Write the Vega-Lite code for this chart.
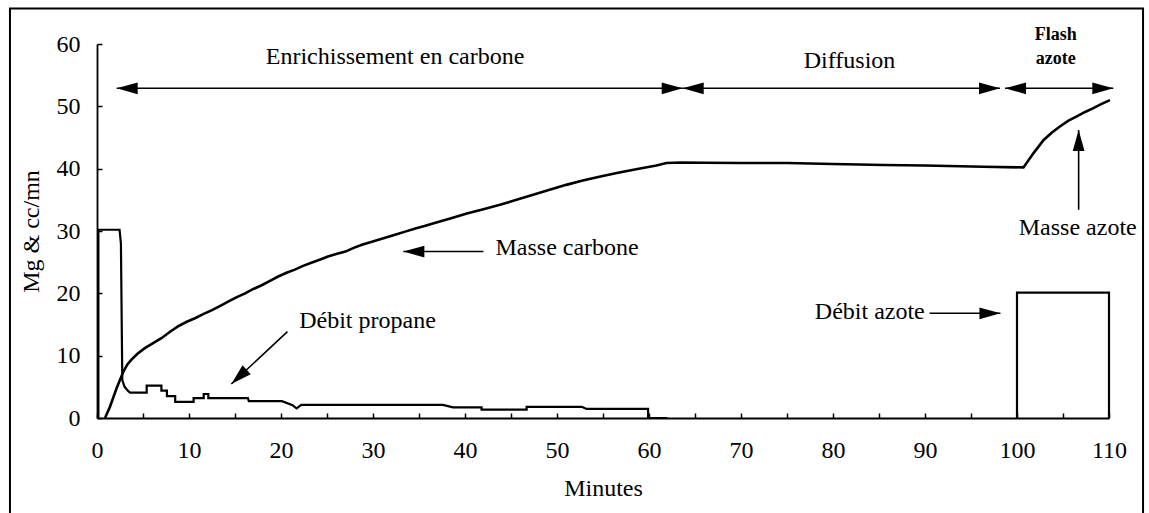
{
  "$schema": "https://vega.github.io/schema/vega-lite/v6.json",
  "width": 1012,
  "height": 374,
  "autosize": {"type": "none"},
  "padding": {"left": 97, "top": 44, "right": 40, "bottom": 95},
  "background": "white",
  "config": {
    "view": {"stroke": null},
    "font": "Liberation Serif, Times New Roman, serif",
    "axis": {
      "tickSize": -5, "tickWidth": 1.5, "tickColor": "black",
      "domainWidth": 1.8, "domainColor": "black", "labelColor": "black",
      "labelFont": "Liberation Serif, Times New Roman, serif", "labelFontSize": 24,
      "labelFlush": false, "labelOverlap": false,
      "titleFont": "Liberation Serif, Times New Roman, serif", "titleFontSize": 24,
      "titleFontWeight": "normal", "titleColor": "black", "grid": false
    },
    "axisX": {"labelPadding": 25, "titlePadding": 14},
    "axisY": {"labelPadding": 22, "titlePadding": 13}
  },
  "datasets": {
    "curves": [
      {"s":"carbone","x":0.87,"y":0},{"s":"carbone","x":1.41,"y":1.8},{"s":"carbone","x":2.14,"y":4.8},{"s":"carbone","x":2.86,"y":7.4},{"s":"carbone","x":3.3,"y":8.6},{"s":"carbone","x":3.77,"y":9.4},{"s":"carbone","x":4.4,"y":10.3},{"s":"carbone","x":5.2,"y":11.2},{"s":"carbone","x":6.1,"y":12.0},{"s":"carbone","x":7.0,"y":12.8},{"s":"carbone","x":7.9,"y":13.8},{"s":"carbone","x":8.8,"y":14.7},{"s":"carbone","x":9.7,"y":15.4},{"s":"carbone","x":10.65,"y":16.0},{"s":"carbone","x":11.6,"y":16.7},{"s":"carbone","x":12.5,"y":17.3},{"s":"carbone","x":13.4,"y":18.0},{"s":"carbone","x":14.3,"y":18.7},{"s":"carbone","x":15.2,"y":19.4},{"s":"carbone","x":16.1,"y":20.0},{"s":"carbone","x":17.0,"y":20.7},{"s":"carbone","x":17.9,"y":21.3},{"s":"carbone","x":18.8,"y":22.0},{"s":"carbone","x":19.7,"y":22.7},{"s":"carbone","x":20.6,"y":23.3},{"s":"carbone","x":21.5,"y":23.8},{"s":"carbone","x":22.4,"y":24.4},{"s":"carbone","x":23.3,"y":24.9},{"s":"carbone","x":24.2,"y":25.4},{"s":"carbone","x":25.1,"y":25.9},{"s":"carbone","x":26.0,"y":26.3},{"s":"carbone","x":27.0,"y":26.7},{"s":"carbone","x":27.9,"y":27.3},{"s":"carbone","x":28.8,"y":27.8},{"s":"carbone","x":29.7,"y":28.2},{"s":"carbone","x":30.6,"y":28.6},{"s":"carbone","x":31.5,"y":29.0},{"s":"carbone","x":32.4,"y":29.4},{"s":"carbone","x":33.5,"y":29.9},{"s":"carbone","x":34.6,"y":30.4},{"s":"carbone","x":35.6,"y":30.8},{"s":"carbone","x":36.6,"y":31.25},{"s":"carbone","x":38.4,"y":32.0},{"s":"carbone","x":40.2,"y":32.8},{"s":"carbone","x":42.0,"y":33.5},{"s":"carbone","x":43.8,"y":34.2},{"s":"carbone","x":45.6,"y":35.0},{"s":"carbone","x":47.4,"y":35.8},{"s":"carbone","x":49.2,"y":36.6},{"s":"carbone","x":51.0,"y":37.4},{"s":"carbone","x":52.8,"y":38.1},{"s":"carbone","x":54.6,"y":38.7},{"s":"carbone","x":56.5,"y":39.3},{"s":"carbone","x":58.6,"y":39.9},{"s":"carbone","x":60.8,"y":40.5},{"s":"carbone","x":61.9,"y":40.9},{"s":"carbone","x":63.5,"y":41.0},{"s":"carbone","x":66,"y":40.95},{"s":"carbone","x":70,"y":40.9},{"s":"carbone","x":75,"y":40.9},{"s":"carbone","x":80,"y":40.75},{"s":"carbone","x":85.5,"y":40.6},{"s":"carbone","x":90,"y":40.5},{"s":"carbone","x":96.3,"y":40.3},{"s":"carbone","x":100.7,"y":40.2},{"s":"carbone","x":101.8,"y":42.5},{"s":"carbone","x":102.9,"y":44.6},{"s":"carbone","x":103.8,"y":45.8},{"s":"carbone","x":104.7,"y":46.8},{"s":"carbone","x":105.6,"y":47.7},{"s":"carbone","x":106.5,"y":48.4},{"s":"carbone","x":107.4,"y":49.1},{"s":"carbone","x":108.3,"y":49.7},{"s":"carbone","x":109.2,"y":50.4},{"s":"carbone","x":110.1,"y":51.0},
      {"s":"propane","i":1,"x":0,"y":0},{"s":"propane","i":2,"x":0.15,"y":0},{"s":"propane","i":3,"x":0.15,"y":30.2},{"s":"propane","i":4,"x":2.45,"y":30.2},{"s":"propane","i":5,"x":2.6,"y":28},{"s":"propane","i":6,"x":2.75,"y":6.1},{"s":"propane","i":7,"x":3.0,"y":5.0},{"s":"propane","i":8,"x":3.4,"y":4.3},{"s":"propane","i":9,"x":3.6,"y":4.06},{"s":"propane","i":10,"x":5.4,"y":4.06},{"s":"propane","i":11,"x":5.4,"y":5.2},{"s":"propane","i":12,"x":7.0,"y":5.2},{"s":"propane","i":13,"x":7.0,"y":4.4},{"s":"propane","i":14,"x":7.6,"y":4.4},{"s":"propane","i":15,"x":7.6,"y":3.5},{"s":"propane","i":16,"x":8.5,"y":3.5},{"s":"propane","i":17,"x":8.5,"y":2.6},{"s":"propane","i":18,"x":10.5,"y":2.6},{"s":"propane","i":19,"x":10.5,"y":3.2},{"s":"propane","i":20,"x":11.6,"y":3.2},{"s":"propane","i":21,"x":11.6,"y":3.85},{"s":"propane","i":22,"x":12.1,"y":3.85},{"s":"propane","i":23,"x":12.1,"y":3.2},{"s":"propane","i":24,"x":16.4,"y":3.2},{"s":"propane","i":25,"x":16.5,"y":2.7},{"s":"propane","i":26,"x":20.1,"y":2.7},{"s":"propane","i":27,"x":21.2,"y":2.1},{"s":"propane","i":28,"x":21.7,"y":1.55},{"s":"propane","i":29,"x":22.2,"y":2.1},{"s":"propane","i":30,"x":37.6,"y":2.1},{"s":"propane","i":31,"x":38.7,"y":1.7},{"s":"propane","i":32,"x":41.8,"y":1.7},{"s":"propane","i":33,"x":41.8,"y":1.35},{"s":"propane","i":34,"x":46.7,"y":1.35},{"s":"propane","i":35,"x":46.7,"y":1.8},{"s":"propane","i":36,"x":52.7,"y":1.8},{"s":"propane","i":37,"x":53.2,"y":1.45},{"s":"propane","i":38,"x":59.9,"y":1.45},{"s":"propane","i":39,"x":59.9,"y":0},{"s":"propane","i":40,"x":62,"y":0},
      {"s":"azote","i":1,"x":100,"y":0},{"s":"azote","i":2,"x":100,"y":20.1},{"s":"azote","i":3,"x":110,"y":20.1},{"s":"azote","i":4,"x":110,"y":0}
    ],
    "labels": [
      {"t":"Enrichissement en carbone","x":32.4,"y":56.8},
      {"t":"Diffusion","x":81.8,"y":56.1},
      {"t":"Masse carbone","x":51.1,"y":26.15},
      {"t":"Débit propane","x":29.4,"y":14.4},
      {"t":"Débit azote","x":84.0,"y":15.9},
      {"t":"Masse azote","x":106.6,"y":29.4}
    ],
    "flash": [
      {"t":"Flash","x":104.2,"y":60.65},
      {"t":"azote","x":104.2,"y":56.8}
    ],
    "segs": [
      {"x":2.14,"x2":63.66,"y":52.9,"y2":52.9},
      {"x":63.66,"x2":98.15,"y":52.9,"y2":52.9},
      {"x":98.7,"x2":110.47,"y":52.9,"y2":52.9},
      {"x":33.3,"x2":42.0,"y":26.7,"y2":26.7},
      {"x":20.7,"x2":14.6,"y":13.85,"y2":5.45},
      {"x":90.5,"x2":98.2,"y":16.8,"y2":16.8},
      {"x":106.7,"x2":106.7,"y":33.4,"y2":46.2}
    ],
    "heads": [
      {"x":2.14,"y":52.9,"d":"left"},
      {"x":63.66,"y":52.9,"d":"right"},
      {"x":63.66,"y":52.9,"d":"left"},
      {"x":98.15,"y":52.9,"d":"right"},
      {"x":98.7,"y":52.9,"d":"left"},
      {"x":110.47,"y":52.9,"d":"right"},
      {"x":33.3,"y":26.7,"d":"left"},
      {"x":14.6,"y":5.45,"d":"downleft"},
      {"x":98.2,"y":16.8,"d":"right"},
      {"x":106.7,"y":46.2,"d":"up"}
    ]
  },
  "layer": [
    {
      "data": {"name": "curves"},
      "transform": [{"filter": "datum.s == 'carbone'"}],
      "mark": {"type": "line", "color": "black", "strokeWidth": 2.6},
      "encoding": {
        "x": {"field": "x", "type": "quantitative", "scale": {"domain": [0, 110], "nice": false},
          "axis": {"title": "Minutes", "values": [0,5,10,15,20,25,30,35,40,45,50,55,60,65,70,75,80,85,90,95,100,105,110],
            "labelExpr": "datum.value % 10 == 0 ? datum.label : ''"}},
        "y": {"field": "y", "type": "quantitative", "scale": {"domain": [0, 60], "nice": false},
          "axis": {"title": "Mg & cc/mn", "values": [0,5,10,15,20,25,30,35,40,45,50,55,60],
            "labelExpr": "datum.value % 10 == 0 ? datum.label : ''"}}
      }
    },
    {
      "data": {"name": "curves"},
      "transform": [{"filter": "datum.s != 'carbone'"}],
      "mark": {"type": "line", "color": "black", "strokeWidth": 2.2},
      "encoding": {
        "x": {"field": "x", "type": "quantitative"},
        "y": {"field": "y", "type": "quantitative"},
        "detail": {"field": "s"},
        "order": {"field": "i", "type": "quantitative"}
      }
    },
    {
      "data": {"values": [{}]},
      "mark": {"type": "rect", "fill": null, "fillOpacity": 0, "stroke": "black", "strokeWidth": 2},
      "encoding": {
        "x": {"datum": -9.46, "type": "quantitative"},
        "x2": {"datum": 113.7},
        "y": {"datum": 65.7, "type": "quantitative"},
        "y2": {"datum": -16}
      }
    },
    {
      "data": {"name": "segs"},
      "mark": {"type": "rule", "color": "black", "strokeWidth": 1.6},
      "encoding": {
        "x": {"field": "x", "type": "quantitative"},
        "x2": {"field": "x2"},
        "y": {"field": "y", "type": "quantitative"},
        "y2": {"field": "y2"}
      }
    },
    {
      "data": {"name": "heads"},
      "mark": {"type": "point", "filled": true, "color": "black", "opacity": 1, "size": 441, "strokeWidth": 0},
      "encoding": {
        "x": {"field": "x", "type": "quantitative"},
        "y": {"field": "y", "type": "quantitative"},
        "shape": {"field": "d", "type": "nominal", "legend": null,
          "scale": {"domain": ["left", "right", "up", "downleft"],
            "range": ["M0,0L2,-0.56L2,0.56Z", "M0,0L-2,-0.56L-2,0.56Z", "M0,0L-0.56,2L0.56,2Z", "M0,0L1.85,-0.94L1.07,-1.78Z"]}}
      }
    },
    {
      "data": {"name": "labels"},
      "mark": {"type": "text", "font": "Liberation Serif, Times New Roman, serif", "fontSize": 24, "color": "black", "align": "center", "baseline": "alphabetic"},
      "encoding": {
        "x": {"field": "x", "type": "quantitative"},
        "y": {"field": "y", "type": "quantitative"},
        "text": {"field": "t"}
      }
    },
    {
      "data": {"name": "flash"},
      "mark": {"type": "text", "font": "Liberation Serif, Times New Roman, serif", "fontSize": 18, "fontWeight": "bold", "color": "black", "align": "center", "baseline": "alphabetic"},
      "encoding": {
        "x": {"field": "x", "type": "quantitative"},
        "y": {"field": "y", "type": "quantitative"},
        "text": {"field": "t"}
      }
    }
  ]
}
